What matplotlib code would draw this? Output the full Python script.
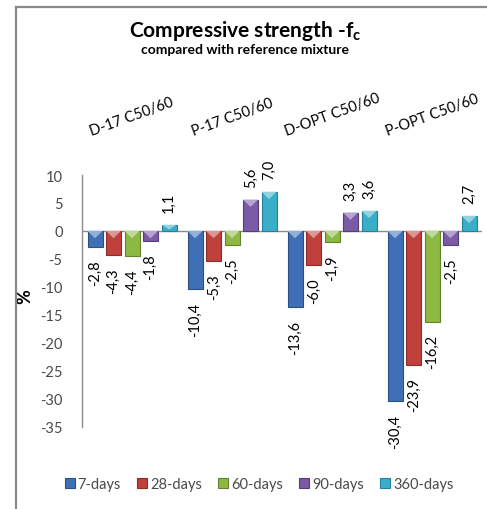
import matplotlib
matplotlib.use("Agg")
import matplotlib.pyplot as plt
from matplotlib.lines import Line2D
from matplotlib.patches import Polygon
import matplotlib.colors as mcolors
import numpy as np

plt.rcParams['font.family'] = ['Lato', 'DejaVu Sans']
plt.rcParams['axes.unicode_minus'] = False
plt.rcParams['mathtext.fontset'] = 'custom'
plt.rcParams['mathtext.bf'] = 'Lato:bold'
plt.rcParams['mathtext.rm'] = 'Lato'

mixtures = ["D-17 C50/60", "P-17 C50/60", "D-OPT C50/60", "P-OPT C50/60"]
ages = ["7-days", "28-days", "60-days", "90-days", "360-days"]
days7 = [-2.8, -10.4, -13.6, -30.4]
days28 = [-4.3, -5.3, -6.0, -23.9]
days60 = [-4.4, -2.5, -1.9, -16.2]
days90 = [-1.8, 5.6, 3.3, -2.5]
days360 = [1.1, 7.0, 3.6, 2.7]
series = [days7, days28, days60, days90, days360]
colors = ["#3F6FB5", "#C0403C", "#8DB843", "#7B5AA6", "#3AAEC8"]
edges = ["#2C4F85", "#8E2C29", "#62822D", "#563F77", "#27809A"]


def lighter(c, k=0.45):
    r, g, b = mcolors.to_rgb(c)
    return (r + (1 - r) * k, g + (1 - g) * k, b + (1 - b) * k)


fig = plt.figure(figsize=(4.87, 5.10), dpi=100)
ax = fig.add_axes([0.1684, 0.1608, 0.8214, 0.4941])

x = np.arange(len(mixtures))
step = 0.185
width = 0.15
for i, (vals, name) in enumerate(zip(series, ages)):
    pos = x + (i - 2) * step
    bars = ax.bar(pos, vals, width, color=colors[i], edgecolor=edges[i],
                  linewidth=0.8, label=name, zorder=3)
    # bevel highlight on the upper end of each bar
    for b, v in zip(bars, vals):
        x0 = b.get_x()
        x1 = x0 + b.get_width()
        top = max(v, 0)
        d = min(1.3, abs(v) * 0.75)
        tri = Polygon([(x0, top), (x1, top), ((x0 + x1) / 2, top - d)], closed=True,
                      facecolor=lighter(colors[i]), edgecolor="none", zorder=4)
        ax.add_patch(tri)
    for px, v in zip(pos, vals):
        txt = f"{v:.1f}".replace(".", ",")
        off = 9 if v >= 0 else -9
        ax.annotate(txt, (px, v), xytext=(0, off), textcoords="offset points",
                    rotation=90, ha="center", va="bottom" if v >= 0 else "top",
                    fontsize=10.5, color="black")

ax.axhline(0, color="#8C8C8C", linewidth=1, zorder=2)
ax.set_xlim(-0.5, len(mixtures) - 0.5)
ax.set_ylim(-35, 10)
ax.set_yticks(np.arange(-35, 11, 5))
ax.tick_params(axis="y", length=0, pad=14, labelsize=10.5, labelcolor="#4A4A4A")

ax.xaxis.tick_top()
ax.set_xticks(x)
ax.set_xticklabels(mixtures, rotation=20, ha="center", fontsize=10.5)
ax.tick_params(axis="x", length=0, pad=27)

for s in ["top", "right", "bottom"]:
    ax.spines[s].set_visible(False)
ax.spines["left"].set_color("#8C8C8C")
ax.spines["left"].set_linewidth(1)

ax.set_ylabel("%", fontsize=13, fontweight="bold")
ax.yaxis.set_label_coords(-0.122, 0.52)

fig.text(0.503, 0.94, "Compressive strength -f$_\\mathbf{c}$", ha="center", va="center",
         fontsize=15, fontweight="bold")
fig.text(0.503, 0.902, "compared with reference mixture", ha="center", va="center",
         fontsize=10, fontweight="bold")

ax.legend(loc="center", bbox_to_anchor=(0.532, 0.049), bbox_transform=fig.transFigure,
          ncol=5, frameon=False, handlelength=0.7, handleheight=0.7,
          handletextpad=0.2, columnspacing=1.1, fontsize=10.5,
          labelcolor="#4A4A4A")

# chart area frame
fig.add_artist(Line2D([0.033, 0.033], [0, 0.985], color="#8A8A8A", linewidth=1.6,
                      transform=fig.transFigure))
fig.add_artist(Line2D([0.033, 1.0], [0.985, 0.985], color="#8A8A8A", linewidth=1.6,
                      transform=fig.transFigure))

fig.savefig("out.png", dpi=100)
